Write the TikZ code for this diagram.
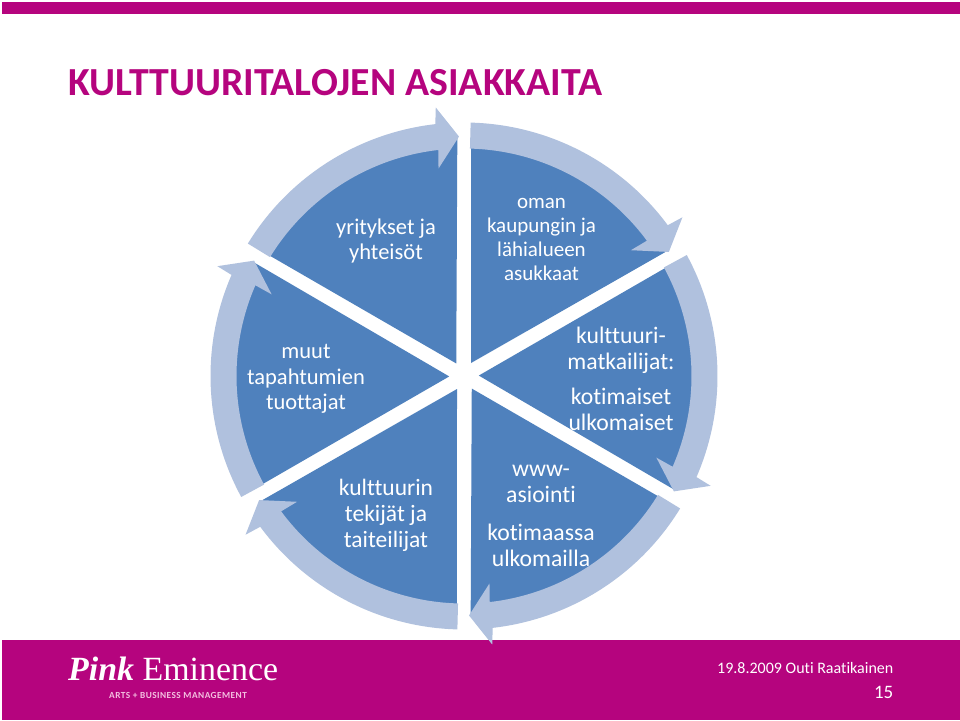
\documentclass[tikz,border=0pt]{standalone}
\usepackage{fontspec}
\setmainfont[Ligatures=NoCommon]{Carlito}
\newfontfamily\logofont{Liberation Serif}
\newfontfamily\tagfont[LetterSpace=5,Ligatures=NoCommon]{Carlito}
\definecolor{pinkbar}{HTML}{B5047E}
\definecolor{sectorblue}{HTML}{4F81BD}
\definecolor{bandblue}{HTML}{B0C1DE}
\definecolor{tagpink}{HTML}{F3BFE0}
\tikzset{
  seclabel/.style={text=white,align=center,inner sep=0pt},
  smalllabel/.style={seclabel,font=\fontsize{21}{24}\selectfont},
  midlabel/.style={seclabel,font=\fontsize{22.5}{25.5}\selectfont},
  biglabel/.style={seclabel,font=\fontsize{23.7}{26}\selectfont},
  foot/.style={text=white,inner sep=0pt},
}
\begin{document}
\begin{tikzpicture}[x=1pt,y=-1pt]
\useasboundingbox (0,0) rectangle (960,720);
\fill[white] (0,0) rectangle (960,720);
\fill[pinkbar] (2,2) rectangle (960,14);
\fill[pinkbar] (2,640) rectangle (960,720);
\node[anchor=base west,inner sep=0pt,text=pinkbar,font=\fontsize{39.8}{46}\selectfont\bfseries] (title) at (68,95) {KULTTUURITALOJEN ASIAKKAITA};
\foreach \r in {0,60,...,300}{
  \begin{scope}[shift={(464,376)},rotate=\r]
    \fill[sectorblue] (7,-13) -- (-88.3:239) arc[start angle=-88.3,end angle=-31.6,radius=239] -- cycle;
  \end{scope}
}
\foreach \r in {0,60,...,300}{
  \begin{scope}[shift={(464,376)},rotate=\r]
    \fill[bandblue]
      (-88.5:227.5) -- (-88.5:253.5)
      arc[start angle=-88.5,end angle=-36.5,radius=253.5]
      -- (-36:270) -- (-31.2:239.5) -- (-37:209) -- (-36.5:227.5)
      arc[start angle=-36.5,end angle=-88.5,radius=227.5] -- cycle;
  \end{scope}
}
\node[smalllabel] (n1) at (541.5,239.5) {oman\\kaupungin ja\\lähialueen\\asukkaat};
\node[midlabel] (n2) at (386,241) {yritykset ja\\yhteisöt};
\node[midlabel] (n3) at (306,379) {muut\\tapahtumien\\tuottajat};
\node[midlabel,font=\fontsize{23.5}{26}\selectfont] (n4) at (386,515) {kulttuurin\\tekijät ja\\taiteilijat};
\node[biglabel] (n5a) at (541,484) {www-\\asiointi};
\node[biglabel] (n5b) at (541,545) {kotimaassa\\ulkomailla};
\node[biglabel] (n6a) at (621,350) {kulttuuri-\\matkailijat:};
\node[biglabel] (n6b) at (621,409.5) {kotimaiset\\ulkomaiset};
\node[anchor=base west,inner sep=0pt,text=white,font=\logofont\fontsize{33.9}{38}\selectfont] (logo) at (68,680) {\textbf{\textit{Pink}} Eminence};
\node[anchor=base west,inner sep=0pt,text=tagpink,font=\tagfont\bfseries\fontsize{9.3}{10}\selectfont] (tag) at (109,698) {ARTS + BUSINESS MANAGEMENT};
\node[foot,anchor=base east,font=\fontsize{16}{18}\selectfont] (date) at (893.5,673) {19.8.2009 Outi Raatikainen};
\node[foot,anchor=base east,font=\fontsize{19}{22}\selectfont] (page) at (893.5,698) {15};
\end{tikzpicture}
\end{document}
